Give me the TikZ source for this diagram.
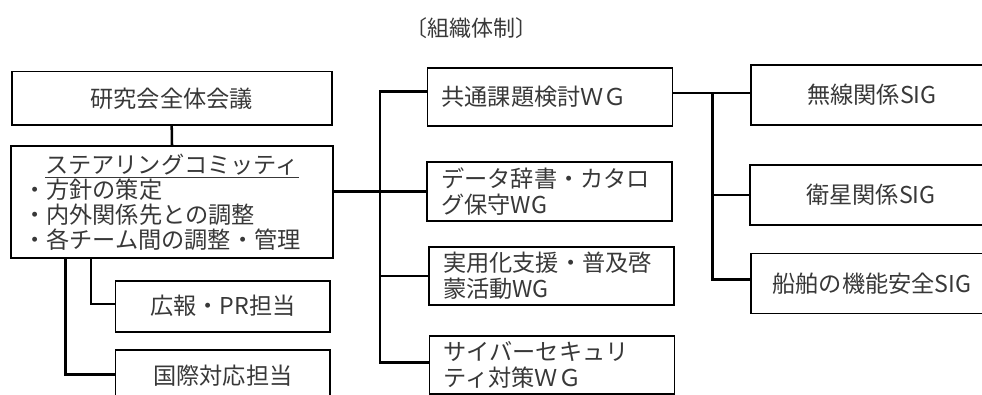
\documentclass[tikz,border=0pt]{standalone}
\usepackage{fontspec}
\setmainfont{Noto Sans CJK JP}
\begin{document}
\begin{tikzpicture}[x=0.75pt,y=-0.75pt,
  box/.style={draw, line width=1.2pt, inner sep=0pt, text=black!78,
    font=\fontsize{17.4pt}{18.75pt}\selectfont},
  sz/.style 2 args={minimum width=#1*0.75pt, minimum height=#2*0.75pt},
  lbox/.style={box, align=left, inner xsep=10.5pt, inner ysep=0pt,
    text width=162.75pt, font=\fontsize{17.4pt}{19.5pt}\selectfont},
  conn/.style={line width=1.9pt, line join=miter},
  titlestyle/.style={text=black!78, font=\fontsize{16.5pt}{18pt}\selectfont}]
\useasboundingbox (0,0) rectangle (982,394);
\clip (0,0) rectangle (982,394);

\node[titlestyle] (title) at (471,28) {〔組織体制〕};

\node[box, sz={320}{53.3}] (zentai) at (171.7,98.3) {研究会全体会議};
\node[box, sz={322}{112}, align=left, inner xsep=9pt, text width=223.5pt] (steer) at (172,202)
  {\makebox[223.5pt][c]{\underline{ステアリングコミッティ}}\\・方針の策定\\・内外関係先との調整\\・各チーム間の調整・管理};
\node[box, sz={214.3}{51}] (pr) at (222.8,306.2) {広報・PR担当};
\node[box, sz={214.3}{51}] (intl) at (222.8,375.7) {国際対応担当};

\node[lbox, minimum height=58*0.75pt] (wg1) at (550,96.7) {共通課題検討ＷＧ};
\node[lbox, minimum height=59*0.75pt] (wg2) at (549.7,191.7) {データ辞書・カタロ\\グ保守WG};
\node[lbox, minimum height=58*0.75pt] (wg3) at (551.5,275.8) {実用化支援・普及啓\\蒙活動WG};
\node[lbox, minimum height=58*0.75pt] (wg4) at (552,364.7) {サイバーセキュリ\\ティ対策ＷＧ};

\node[box, sz={242}{60}] (sig1) at (872,95) {無線関係SIG};
\node[box, sz={242}{60}] (sig2) at (871,195) {衛星関係SIG};
\node[box, sz={242}{60}] (sig3) at (872,283.3) {船舶の機能安全SIG};

\coordinate (jA) at (380,91.7);
\coordinate (jB) at (380,362.7);
\coordinate (jC) at (712.3,93);
\coordinate (jD) at (712.3,279.3);
\coordinate (jE) at (91,304);
\coordinate (jF) at (65.7,374.3);

\draw[conn] (zentai.south) -- (steer.north);
\draw[conn] (steer.east |- wg2.west) -- (wg2.west);
\draw[conn] (wg1.west |- jA) -- (jA) -- (jB) -- (jB -| wg4.west);
\draw[conn] (jA |- wg3.west) -- (wg3.west);
\draw[conn] (wg1.east |- jC) -- (jC -| sig1.west);
\draw[conn] (jC) -- (jD) -- (jD -| sig3.west);
\draw[conn] (jC |- sig2.west) -- (sig2.west);
\draw[conn] (steer.south -| jE) -- (jE) -- (jE -| pr.west);
\draw[conn] (steer.south -| jF) -- (jF) -- (jF -| intl.west);
\end{tikzpicture}
\end{document}
